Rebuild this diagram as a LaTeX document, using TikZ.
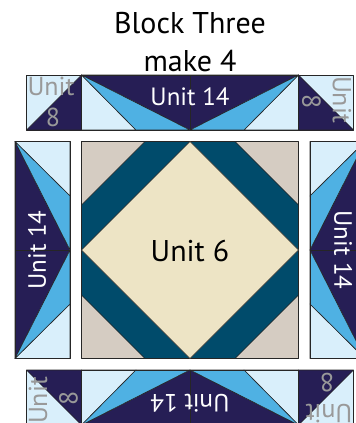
\documentclass[tikz,border=0pt]{standalone}
\usepackage{fontspec}
\setmainfont{PT Sans}
\definecolor{cNavy}{HTML}{261E55}
\definecolor{cSky}{HTML}{4FB1E3}
\definecolor{cPale}{HTML}{D9EFFB}
\definecolor{cTeal}{HTML}{004B6B}
\definecolor{cTan}{HTML}{D5CCC2}
\definecolor{cCream}{HTML}{EDE4C5}
\begin{document}
\begin{tikzpicture}[x=1pt, y=-1pt,
    patch/.style={draw=black!85, line width=0.6pt, line join=round},
    big/.style={inner sep=0pt, font=\fontsize{30}{36}\selectfont},
    lbl/.style={inner sep=0pt, transform shape, font=\fontsize{25}{30}\selectfont},
    small/.style={lbl, text=black!40, font=\fontsize{26}{30}\selectfont}
]
\useasboundingbox (0,0) rectangle (356,423);
\clip (0,0) rectangle (356,423);
\node[big, anchor=base] (title) at (190,33) {Block Three};
\node[big, anchor=base] (make) at (190,71) {make 4};

\begin{scope}[shift={(190,250)}]
\filldraw[patch, fill=cTan] (-108.5,-108.5) rectangle (108.5,108.5);
\filldraw[patch, fill=cTeal] (-45,-108.5) -- (45,-108.5) -- (108.5,-45) -- (108.5,45)
    -- (45,108.5) -- (-45,108.5) -- (-108.5,45) -- (-108.5,-45) -- cycle;
\filldraw[patch, fill=cCream] (0,-108.5) -- (108.5,0) -- (0,108.5) -- (-108.5,0) -- cycle;
\node[big] (unit6) at (0,1) {Unit 6};
\end{scope}

\foreach \a in {0,90,180,270} {
  \begin{scope}[shift={(190,250)}, rotate=\a]
  \filldraw[patch, fill=cNavy] (-108.5,-175) -- (108.5,-175) -- (0,-120) -- cycle;
  \filldraw[patch, fill=cPale] (-108.5,-175) -- (-54,-120) -- (-108.5,-120) -- cycle;
  \filldraw[patch, fill=cSky] (-108.5,-175) -- (0,-120) -- (-54,-120) -- cycle;
  \filldraw[patch, fill=cPale] (108.5,-175) -- (54,-120) -- (108.5,-120) -- cycle;
  \filldraw[patch, fill=cSky] (108.5,-175) -- (0,-120) -- (54,-120) -- cycle;
  \draw[patch] (-108.5,-175) rectangle (108.5,-120);
  \draw[patch] (0,-175) -- (0,-120);
  \node[lbl, text=white] (unit14-\a) at (0,-153) {Unit 14};
  \end{scope}
}

\foreach \b in {0,180} {
  \begin{scope}[shift={(190,250)}, rotate=\b]
  \foreach \s/\r/\n in {-136/0/l, 136/-90/r} {
    \begin{scope}[shift={(\s,-147.5)}, rotate=\r]
    \filldraw[patch, fill=cPale] (-27.5,-27.5) rectangle (27.5,27.5);
    \filldraw[patch, fill=cNavy] (-27.5,27.5) -- (27.5,-27.5) -- (27.5,27.5) -- cycle;
    \node[small] (unit8-\b\n) at (-3,-16) {Unit};
    \node[small] (eight-\b\n) at (-1,14.5) {8};
    \end{scope}
  }
  \end{scope}
}
\end{tikzpicture}
\end{document}
